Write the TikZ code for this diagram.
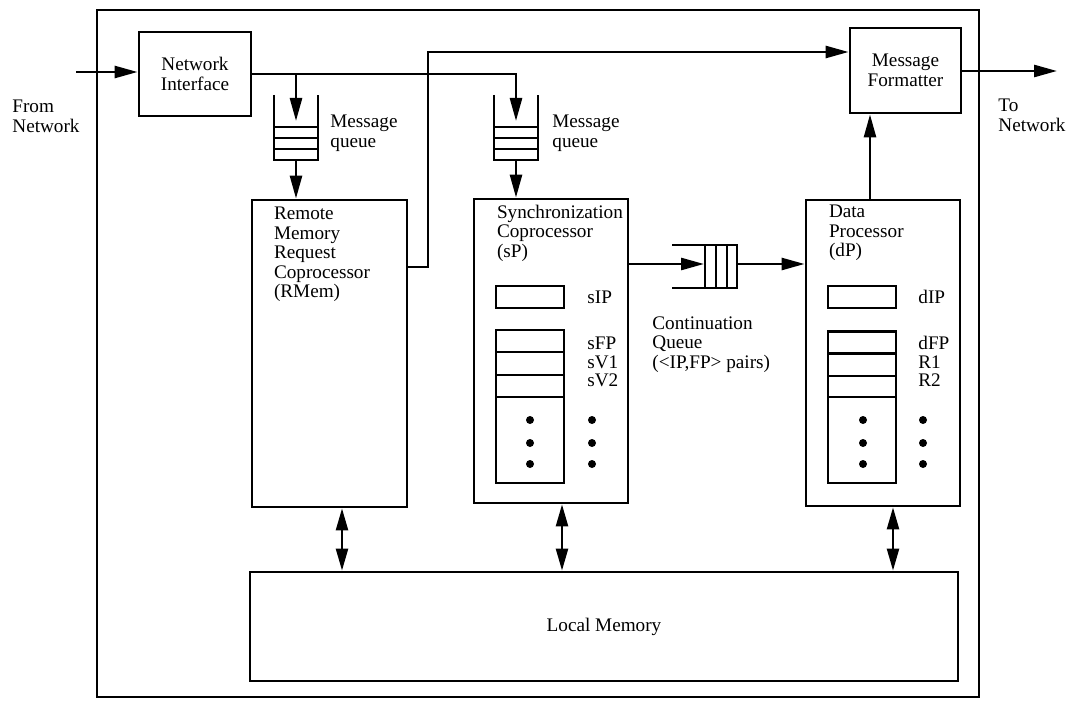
\documentclass[tikz,border=0pt]{standalone}
\usepackage{fontspec}
\setmainfont{Liberation Serif}
\usetikzlibrary{arrows.meta, positioning, calc}

\begin{document}
\begin{tikzpicture}[
    x=0.5pt, y=-0.5pt,
    font=\fontsize{9.6}{9.8}\selectfont,
    blk/.style={
        rectangle, draw=black, line width=1.4pt,
        inner sep=0pt, align=center,
    },
    reg/.style={
        rectangle, draw=black, line width=1.2pt,
        minimum width=34pt, inner sep=0pt,
    },
    lbl/.style={inner sep=0pt, align=left, anchor=north west},
    tag/.style={inner sep=0pt, anchor=west},
    qline/.style={line width=1.2pt},
    arr/.style={-{Triangle[length=11.5pt, width=6pt]}, line width=1.3pt},
    darr/.style={{Triangle[length=11pt, width=6pt]}-{Triangle[length=11pt, width=6pt]}, line width=1.2pt},
    dot/.style={circle, fill=black, inner sep=0pt, minimum size=4pt},
]
\useasboundingbox (0,0) rectangle (1077,701);

% === outer frame ===
\draw[line width=1.4pt] (97,10) rectangle (979,697);

% === top row ===
\node[blk, minimum width=56pt, minimum height=42pt] (ni) at (195,74) {Network\\Interface};
\node[blk, minimum width=55.5pt, minimum height=42.5pt] (mf) at (905.5,70.5) {Message\\Formatter};
\node[lbl] (fromtxt) at (12,100) {From\\Network};
\node[lbl] (totxt) at (998,99) {To\\Network};

% === processors ===
\node[blk, minimum width=77.5pt, minimum height=153.5pt] (rmem) at (329.5,353.5) {};
\node[blk, minimum width=77pt, minimum height=152pt] (sp) at (551,351) {};
\node[blk, minimum width=77pt, minimum height=153pt] (dp) at (883,353) {};
\node[blk, minimum width=354pt, minimum height=54.5pt] (lm) at (604,626.5) {Local Memory};

\node[lbl] (rmemtxt) at ([xshift=11.5pt, yshift=-4pt]rmem.north west) {Remote\\Memory\\Request\\Coprocessor\\(RMem)};
\node[lbl] (sptxt) at ([xshift=12pt, yshift=-3.5pt]sp.north west) {Synchronization\\Coprocessor\\(sP)};
\node[lbl] (dptxt) at ([xshift=12pt, yshift=-3pt]dp.north west) {Data\\Processor\\(dP)};

% registers of sP
\node[reg, minimum height=11pt] (sip) at (530,297) {};
\node[reg, minimum height=11pt] (sfp) at (530,341) {};
\node[reg, minimum height=11.5pt] (sv1) at (530,363.5) {};
\node[reg, minimum height=11pt] (sv2) at (530,386) {};
\node[reg, minimum height=43pt] (srest) at (530,440) {};
\node[tag] (siptxt) at (587,297) {sIP};
\node[tag] (sfptxt) at (587,343) {sFP};
\node[tag] (sv1txt) at (587,362) {sV1};
\node[tag] (sv2txt) at (587,380) {sV2};

% registers of dP
\node[reg, minimum height=11pt] (dip) at (862,297) {};
\node[reg, minimum height=11pt] (dfp) at (862,342.5) {};
\node[reg, minimum height=11.5pt] (r1) at (862,364.5) {};
\node[reg, minimum height=10.5pt] (r2) at (862,386.5) {};
\node[reg, minimum height=43pt] (drest) at (862,440) {};
\node[tag] (diptxt) at (918,297) {dIP};
\node[tag] (dfptxt) at (918,343) {dFP};
\node[tag] (r1txt) at (918,362) {R1};
\node[tag] (r2txt) at (918,380) {R2};

% dots
\foreach \dx in {530,592,863,923} {
    \foreach \dy in {420,443,464} {
        \node[dot] at (\dx,\dy) {};
    }
}

% === message queues ===
\foreach \qx/\qn in {296/qa, 516/qb} {
    \draw[qline] (\qx-22,95) -- (\qx-22,160) -- (\qx+22,160) -- (\qx+22,95);
    \foreach \qy in {127,138,149}
        \draw[qline] (\qx-22,\qy) -- (\qx+22,\qy);
    \coordinate (\qn-in) at (\qx,121);
    \coordinate (\qn-out) at (\qx,160);
}
\node[lbl] (qatxt) at (330,115) {Message\\queue};
\node[lbl] (qbtxt) at (552,115) {Message\\queue};

% === continuation queue ===
\draw[qline] (672,245) -- (737,245) -- (737,288) -- (672,288);
\foreach \cx in {705,716,727}
    \draw[qline] (\cx,245) -- (\cx,288);
\coordinate (cq-in) at (704,264);
\coordinate (cq-out) at (737,264);
\node[lbl] (cqtxt) at (652,316) {Continuation\\Queue\\(<IP,FP> pairs)};

% === connectors ===
\coordinate (fromnet) at (76,72);
\coordinate (tonet) at (1057,71);
\coordinate (bend) at (428,52);

\draw[arr] (fromnet) -- (fromnet -| ni.west);
\draw[arr] (ni.east) -- (ni.east -| qb-in) -- (qb-in);
\draw[arr] (ni.east -| qa-in) -- (qa-in);
\draw[arr] (qa-out) -- (qa-out |- rmem.north);
\draw[arr] (qb-out) -- (qb-out |- sp.north);
\draw[arr] (rmem.east |- 0,267) -| (bend) -- (bend -| mf.west);
\draw[arr] (sp.east |- cq-in) -- (cq-in);
\draw[arr] (cq-out) -- (cq-out -| dp.west);
\draw[arr] ([xshift=-6.5pt]dp.north) -- ([xshift=-6.5pt]dp.north |- mf.south);
\draw[arr] (mf.east |- tonet) -- (tonet);

% to and from local memory
\foreach \b/\dx in {rmem/6.25pt, sp/5.5pt, dp/5pt}
    \draw[darr] ([xshift=\dx]\b.south) -- ([xshift=\dx]\b.south |- lm.north);

\end{tikzpicture}
\end{document}
